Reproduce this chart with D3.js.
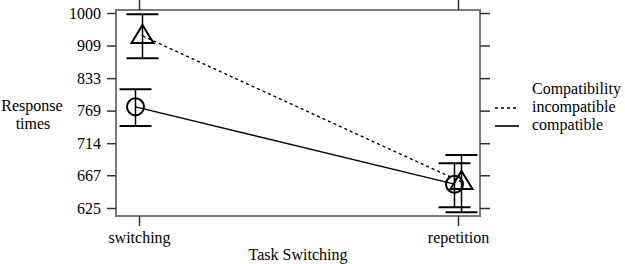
<!DOCTYPE html>
<html>
<head>
<meta charset="utf-8">
<script src="https://cdn.jsdelivr.net/npm/d3@7"></script>
<style>
  body { margin: 0; background: #fff; }
  text { font-family: "Liberation Serif", "Times New Roman", serif; font-size: 16px; fill: #000; }
</style>
</head>
<body>
<div id="chart"></div>
<script>
// DATA
var categories = ["switching", "repetition"];
var yTicks = [625, 667, 714, 769, 833, 909, 1000];

var incompatibleMean = [934, 658];
var incompatibleLow = [878, 620];
var incompatibleHigh = [996, 696];

var compatibleMean = [776, 655];
var compatibleLow = [742, 626];
var compatibleHigh = [810, 684];

// SIZES
var w = 625;
var h = 264;
var box = { left: 116, right: 480, top: 10, bottom: 216 };

var svg = d3.select("#chart").append("svg").attr("width", w).attr("height", h);

// SCALES (y is linear in 1/value, the original plot used a reciprocal axis)
var xScale = d3.scalePoint().domain(categories).range([139, 458]);
var yInv = d3.scaleLinear().domain([1 / 1000, 1 / 625]).range([13, 208]);
function y(v) { return yInv(1 / v); }

// BOX
svg.append("rect")
  .attr("x", box.left).attr("y", box.top)
  .attr("width", box.right - box.left).attr("height", box.bottom - box.top)
  .attr("fill", "none").attr("stroke", "#7a7a7a").attr("stroke-width", 2);

// AXES
var yAxisLeft = d3.axisLeft(yInv)
  .tickValues(yTicks.map(function (d) { return 1 / d; }))
  .tickFormat(function (d) { return Math.round(1 / d); })
  .tickSize(9).tickPadding(6);
var gl = svg.append("g").attr("transform", "translate(" + box.left + ",0)").call(yAxisLeft);

var yAxisRight = d3.axisRight(yInv)
  .tickValues(yTicks.map(function (d) { return 1 / d; }))
  .tickFormat("").tickSize(10);
var gr = svg.append("g").attr("transform", "translate(" + box.right + ",0)").call(yAxisRight);

var xAxisBottom = d3.axisBottom(xScale).tickSize(10).tickPadding(6);
var gb = svg.append("g").attr("transform", "translate(0," + box.bottom + ")").call(xAxisBottom);

var xAxisTop = d3.axisTop(xScale).tickSize(10).tickFormat("");
var gt = svg.append("g").attr("transform", "translate(0," + box.top + ")").call(xAxisTop);

[gl, gr, gb, gt].forEach(function (g) {
  g.select(".domain").remove();
  g.selectAll(".tick line").attr("stroke", "#333").attr("stroke-width", 1.5);
  g.selectAll("text").attr("font-family", null).attr("font-size", null).attr("fill", "#000");
});

// axis labels
svg.append("text").attr("x", 298).attr("y", 260).attr("text-anchor", "middle").text("Task Switching");
svg.append("text").attr("x", 32).attr("y", 111).attr("text-anchor", "middle").text("Response");
svg.append("text").attr("x", 33).attr("y", 129).attr("text-anchor", "middle").text("times");

// SERIES
var series = [
  { name: "incompatible", mean: incompatibleMean, low: incompatibleLow, high: incompatibleHigh, dx: 3.5, dash: "3,3", shape: "triangle" },
  { name: "compatible", mean: compatibleMean, low: compatibleLow, high: compatibleHigh, dx: -3.5, dash: null, shape: "circle" }
];

series.forEach(function (s) {
  var pts = categories.map(function (c, i) {
    return { x: xScale(c) + s.dx, m: s.mean[i], lo: s.low[i], hi: s.high[i] };
  });

  // connecting line
  svg.append("path")
    .datum(pts)
    .attr("fill", "none")
    .attr("stroke", "#000")
    .attr("stroke-width", 1.4)
    .attr("stroke-dasharray", s.dash)
    .attr("d", d3.line().x(function (d) { return d.x; }).y(function (d) { return y(d.m); }));

  var g = svg.selectAll(null).data(pts).enter().append("g");

  // error bars
  g.append("line")
    .attr("x1", function (d) { return d.x; }).attr("x2", function (d) { return d.x; })
    .attr("y1", function (d) { return y(d.hi); }).attr("y2", function (d) { return y(d.lo); })
    .attr("stroke", "#000").attr("stroke-width", 1.5);
  ["hi", "lo"].forEach(function (k) {
    g.append("line")
      .attr("x1", function (d) { return d.x - 16; }).attr("x2", function (d) { return d.x + 16; })
      .attr("y1", function (d) { return y(d[k]); }).attr("y2", function (d) { return y(d[k]); })
      .attr("stroke", "#000").attr("stroke-width", 2);
  });

  // markers
  if (s.shape === "circle") {
    g.append("circle")
      .attr("cx", function (d) { return d.x; }).attr("cy", function (d) { return y(d.m); })
      .attr("r", 8.5).attr("fill", "none").attr("stroke", "#000").attr("stroke-width", 2);
  } else {
    g.append("path")
      .attr("transform", function (d) { return "translate(" + d.x + "," + y(d.m) + ")"; })
      .attr("d", "M0,-11L11,7L-11,7Z")
      .attr("fill", "none").attr("stroke", "#000").attr("stroke-width", 2);
  }
});

// LEGEND
svg.append("text").attr("x", 532).attr("y", 94).text("Compatibility");
var legend = svg.selectAll(".leg").data(series).enter().append("g").attr("class", "leg")
  .attr("transform", function (d, i) { return "translate(0," + (i * 18) + ")"; });
legend.append("line")
  .attr("x1", 495).attr("x2", 519).attr("y1", 108).attr("y2", 108)
  .attr("stroke", "#000").attr("stroke-width", 1.6)
  .attr("stroke-dasharray", function (d) { return d.dash; });
legend.append("text").attr("x", 532).attr("y", 112).text(function (d) { return d.name; });
</script>
</body>
</html>
